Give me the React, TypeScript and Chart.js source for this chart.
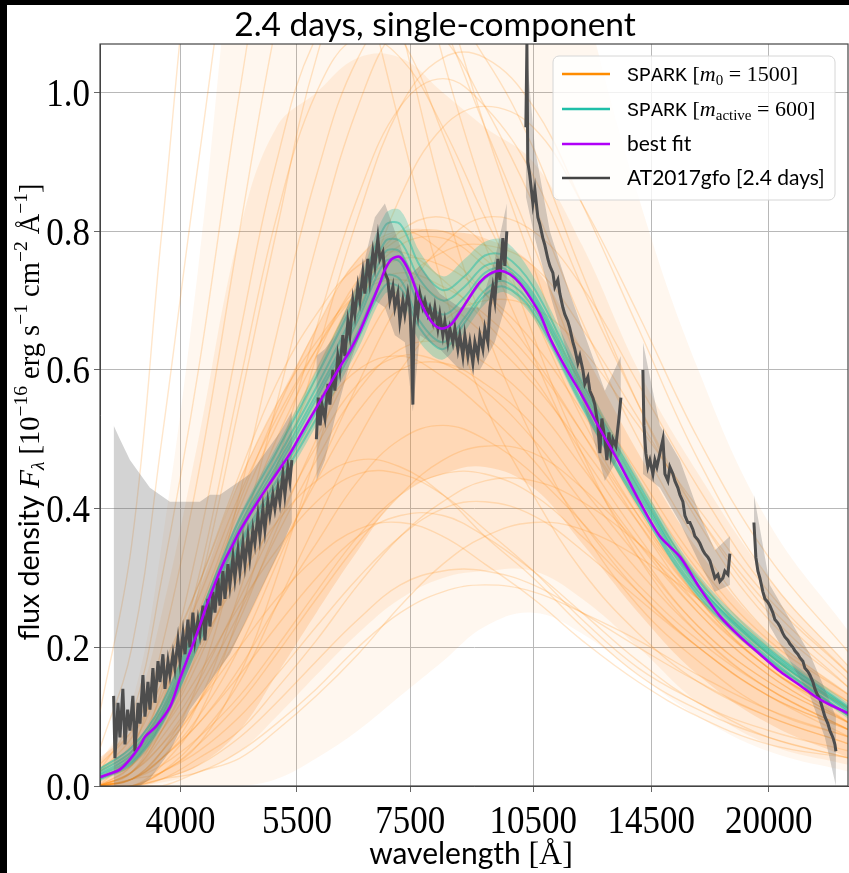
import React, { useEffect, useRef } from 'react';
import { Chart, registerables } from 'chart.js';
Chart.register(...registerables);

// ---------- axes ----------
const X_MIN = 3208;
const X_MAX = 24850;
const Y_MIN = 0;
const Y_MAX = 1.07;
const X_TICKS = [4000, 5500, 7500, 10500, 14500, 20000];
const Y_TICKS = [0, 0.2, 0.4, 0.6, 0.8, 1.0];

// ---------- SPARK [m0 = 1500] samples (orange) ----------
const SPARK_WAVE = [3200, 3500, 3800, 4200, 4700, 5200, 5800, 6500, 7300, 8200, 9200, 10500, 12000, 14000, 16500, 20000, 25000];
// spread of the sample cloud: outer haze, middle and dense core
const SPARK_HAZE_HI = [0.03, 0.12, 0.35, 0.75, 1.3, 1.6, 1.6, 1.6, 1.6, 1.6, 1.55, 1.45, 1.15, 0.85, 0.6, 0.38, 0.22];
const SPARK_HAZE_LO = [0.0, 0.0, 0.0, 0.0, 0.0, 0.01, 0.04, 0.08, 0.13, 0.18, 0.23, 0.25, 0.22, 0.16, 0.1, 0.05, 0.02];
const SPARK_MID_HI = [0.035, 0.1, 0.25, 0.5, 0.8, 0.95, 1.0, 1.05, 1.05, 1.0, 0.95, 0.9, 0.78, 0.6, 0.45, 0.3, 0.17];
const SPARK_MID_LO = [0.0, 0.0, 0.005, 0.02, 0.05, 0.1, 0.16, 0.22, 0.27, 0.3, 0.31, 0.31, 0.27, 0.2, 0.12, 0.06, 0.03];
const SPARK_CORE_HI = [0.04, 0.08, 0.15, 0.28, 0.44, 0.55, 0.66, 0.76, 0.8, 0.8, 0.79, 0.75, 0.63, 0.48, 0.34, 0.22, 0.13];
const SPARK_CORE_LO = [0.0, 0.0, 0.01, 0.03, 0.08, 0.16, 0.25, 0.34, 0.42, 0.45, 0.46, 0.43, 0.35, 0.25, 0.16, 0.09, 0.04];
const SPARK_SAMPLES = [
  [0.02, 0.1, 0.3, 0.6, 1.0, 1.3, 1.5, 1.5, 1.3, 1.05, 0.85, 0.65, 0.48, 0.33, 0.22, 0.14, 0.08],
  [0.0, 0.05, 0.2, 0.45, 0.8, 1.1, 1.35, 1.45, 1.35, 1.15, 0.95, 0.75, 0.56, 0.4, 0.27, 0.17, 0.1],
  [0.05, 0.2, 0.5, 0.9, 1.3, 1.5, 1.5, 1.35, 1.1, 0.85, 0.66, 0.5, 0.37, 0.26, 0.18, 0.11, 0.07],
  [0.0, 0.02, 0.1, 0.28, 0.55, 0.8, 1.05, 1.2, 1.22, 1.1, 0.95, 0.78, 0.6, 0.43, 0.3, 0.19, 0.11],
  [0.0, 0.03, 0.12, 0.3, 0.58, 0.82, 1.0, 1.08, 1.05, 0.95, 0.82, 0.68, 0.53, 0.39, 0.27, 0.17, 0.1],
  [0.0, 0.01, 0.05, 0.15, 0.35, 0.55, 0.78, 0.98, 1.1, 1.12, 1.05, 0.92, 0.74, 0.55, 0.38, 0.24, 0.14],
  [0.01, 0.04, 0.14, 0.35, 0.65, 0.9, 1.08, 1.14, 1.08, 0.94, 0.78, 0.62, 0.47, 0.34, 0.23, 0.15, 0.09],
  [0.0, 0.0, 0.03, 0.1, 0.25, 0.42, 0.62, 0.82, 0.98, 1.05, 1.05, 0.98, 0.84, 0.66, 0.47, 0.3, 0.17],
  [0.0, 0.01, 0.04, 0.12, 0.28, 0.46, 0.66, 0.85, 0.98, 1.02, 0.98, 0.88, 0.72, 0.55, 0.39, 0.25, 0.14],
  [0.0, 0.0, 0.02, 0.06, 0.16, 0.3, 0.48, 0.68, 0.85, 0.95, 0.98, 0.95, 0.84, 0.68, 0.5, 0.33, 0.19],
  [0.1, 0.35, 0.8, 1.3, 1.6, 1.6, 1.45, 1.2, 0.95, 0.72, 0.55, 0.42, 0.31, 0.22, 0.15, 0.1, 0.06],
  [0.0, 0.02, 0.08, 0.2, 0.42, 0.65, 0.88, 1.05, 1.12, 1.08, 0.98, 0.84, 0.67, 0.5, 0.35, 0.22, 0.13],
  [0.01, 0.04, 0.12, 0.24, 0.4, 0.52, 0.63, 0.72, 0.76, 0.75, 0.71, 0.64, 0.54, 0.41, 0.29, 0.19, 0.11],
  [0.02, 0.06, 0.15, 0.27, 0.42, 0.53, 0.63, 0.71, 0.74, 0.72, 0.68, 0.61, 0.51, 0.39, 0.28, 0.18, 0.1],
  [0.0, 0.03, 0.1, 0.21, 0.36, 0.48, 0.6, 0.71, 0.78, 0.79, 0.75, 0.68, 0.57, 0.43, 0.3, 0.19, 0.11],
  [0.03, 0.08, 0.17, 0.29, 0.44, 0.55, 0.64, 0.71, 0.73, 0.7, 0.65, 0.58, 0.49, 0.38, 0.27, 0.18, 0.11],
  [0.01, 0.05, 0.13, 0.25, 0.41, 0.54, 0.66, 0.76, 0.8, 0.77, 0.71, 0.62, 0.51, 0.38, 0.26, 0.17, 0.09],
  [0.0, 0.02, 0.08, 0.18, 0.33, 0.46, 0.59, 0.72, 0.8, 0.82, 0.78, 0.7, 0.58, 0.44, 0.31, 0.2, 0.12],
  [0.02, 0.07, 0.16, 0.29, 0.45, 0.58, 0.68, 0.75, 0.77, 0.73, 0.67, 0.59, 0.48, 0.36, 0.25, 0.16, 0.09],
  [0.01, 0.04, 0.11, 0.22, 0.37, 0.5, 0.62, 0.73, 0.79, 0.8, 0.76, 0.69, 0.58, 0.45, 0.32, 0.21, 0.13],
  [0.0, 0.0, 0.01, 0.03, 0.07, 0.12, 0.18, 0.24, 0.29, 0.31, 0.31, 0.29, 0.25, 0.2, 0.15, 0.1, 0.06],
  [0.0, 0.0, 0.02, 0.05, 0.1, 0.16, 0.23, 0.3, 0.36, 0.4, 0.41, 0.39, 0.34, 0.27, 0.2, 0.13, 0.08],
  [0.0, 0.01, 0.03, 0.07, 0.13, 0.2, 0.28, 0.36, 0.42, 0.45, 0.45, 0.42, 0.36, 0.28, 0.2, 0.13, 0.08],
  [0.0, 0.0, 0.01, 0.02, 0.05, 0.09, 0.14, 0.2, 0.25, 0.28, 0.29, 0.28, 0.25, 0.21, 0.16, 0.11, 0.07],
  [0.0, 0.01, 0.04, 0.09, 0.17, 0.26, 0.35, 0.44, 0.5, 0.52, 0.5, 0.45, 0.38, 0.29, 0.21, 0.14, 0.08],
  [0.0, 0.0, 0.01, 0.04, 0.08, 0.14, 0.21, 0.29, 0.36, 0.41, 0.44, 0.44, 0.41, 0.35, 0.27, 0.18, 0.11],
  [0.0, 0.0, 0.0, 0.02, 0.04, 0.08, 0.13, 0.19, 0.26, 0.32, 0.36, 0.38, 0.37, 0.33, 0.27, 0.19, 0.12],
  [0.0, 0.01, 0.02, 0.06, 0.12, 0.19, 0.27, 0.35, 0.42, 0.47, 0.49, 0.48, 0.43, 0.35, 0.26, 0.17, 0.1],
  [0.0, 0.02, 0.06, 0.12, 0.2, 0.27, 0.33, 0.37, 0.38, 0.36, 0.32, 0.27, 0.21, 0.15, 0.1, 0.06, 0.04],
  [0.01, 0.03, 0.08, 0.16, 0.26, 0.34, 0.41, 0.45, 0.45, 0.42, 0.37, 0.31, 0.24, 0.17, 0.12, 0.07, 0.04],
  [0.0, 0.01, 0.04, 0.09, 0.16, 0.23, 0.3, 0.36, 0.39, 0.39, 0.36, 0.31, 0.25, 0.18, 0.12, 0.08, 0.05],
  [0.02, 0.05, 0.11, 0.2, 0.3, 0.38, 0.44, 0.47, 0.46, 0.42, 0.36, 0.3, 0.23, 0.16, 0.11, 0.07, 0.04],
  [0.0, 0.02, 0.07, 0.15, 0.27, 0.38, 0.49, 0.58, 0.62, 0.61, 0.57, 0.5, 0.41, 0.31, 0.22, 0.14, 0.08],
  [0.01, 0.03, 0.09, 0.19, 0.32, 0.43, 0.53, 0.6, 0.62, 0.59, 0.54, 0.47, 0.38, 0.28, 0.2, 0.13, 0.07],
  [0.0, 0.01, 0.05, 0.12, 0.22, 0.33, 0.44, 0.54, 0.6, 0.61, 0.58, 0.52, 0.43, 0.33, 0.23, 0.15, 0.09],
  [0.0, 0.02, 0.06, 0.14, 0.25, 0.36, 0.47, 0.57, 0.63, 0.64, 0.61, 0.55, 0.46, 0.35, 0.25, 0.16, 0.09],
  [0.0, 0.01, 0.04, 0.1, 0.2, 0.32, 0.45, 0.58, 0.7, 0.78, 0.82, 0.8, 0.72, 0.58, 0.43, 0.28, 0.16],
  [0.0, 0.01, 0.05, 0.12, 0.24, 0.37, 0.5, 0.62, 0.72, 0.77, 0.78, 0.75, 0.66, 0.53, 0.39, 0.26, 0.15],
  [0.0, 0.0, 0.02, 0.07, 0.15, 0.26, 0.38, 0.5, 0.6, 0.67, 0.7, 0.69, 0.63, 0.52, 0.4, 0.27, 0.16],
];

// ---------- SPARK [m_active = 600] samples (teal) ----------
const ACTIVE_WAVE = [3200, 3500, 3800, 4200, 4700, 5200, 5800, 6500, 7000, 7300, 7700, 8200, 8700, 9200, 9700, 10500, 12000, 14000, 16500, 20000, 25000];
const ACTIVE_HI = [0.025, 0.058, 0.12, 0.245, 0.39, 0.49, 0.6, 0.725, 0.825, 0.83, 0.77, 0.735, 0.76, 0.785, 0.787, 0.735, 0.593, 0.445, 0.305, 0.205, 0.117];
const ACTIVE_LO = [0.006, 0.03, 0.085, 0.2, 0.335, 0.42, 0.52, 0.63, 0.71, 0.705, 0.64, 0.615, 0.655, 0.695, 0.712, 0.675, 0.543, 0.402, 0.27, 0.178, 0.095];
const ACTIVE_SAMPLES = [
  [0.02, 0.05, 0.11, 0.235, 0.375, 0.47, 0.575, 0.695, 0.785, 0.785, 0.73, 0.7, 0.72, 0.75, 0.752, 0.71, 0.575, 0.43, 0.29, 0.195, 0.11],
  [0.011, 0.036, 0.094, 0.212, 0.35, 0.44, 0.54, 0.655, 0.735, 0.73, 0.67, 0.64, 0.675, 0.715, 0.728, 0.69, 0.553, 0.41, 0.28, 0.185, 0.1],
  [0.017, 0.045, 0.104, 0.228, 0.368, 0.462, 0.565, 0.68, 0.77, 0.77, 0.71, 0.68, 0.705, 0.74, 0.746, 0.705, 0.568, 0.425, 0.289, 0.192, 0.107],
  [0.009, 0.033, 0.09, 0.205, 0.345, 0.432, 0.53, 0.645, 0.722, 0.718, 0.66, 0.63, 0.668, 0.708, 0.72, 0.683, 0.548, 0.405, 0.275, 0.182, 0.1],
  [0.024, 0.056, 0.118, 0.242, 0.385, 0.482, 0.59, 0.712, 0.808, 0.81, 0.75, 0.715, 0.735, 0.765, 0.765, 0.72, 0.582, 0.436, 0.296, 0.198, 0.112],
  [0.015, 0.04, 0.1, 0.222, 0.362, 0.455, 0.558, 0.672, 0.756, 0.755, 0.692, 0.662, 0.694, 0.732, 0.742, 0.7, 0.563, 0.42, 0.285, 0.19, 0.105],
];

// ---------- best fit (magenta) ----------
const FIT_WAVE = [3208, 3300, 3390, 3480, 3580, 3630, 3740, 3885, 3993, 4125, 4217, 4300, 4394, 4491, 4600, 4705, 4835, 4970, 5110, 5250, 5400, 5546, 5700, 5860, 6020, 6190, 6360, 6530, 6715, 6900, 7000, 7130, 7290, 7490, 7700, 7920, 8130, 8360, 8590, 8830, 9080, 9330, 9590, 9850, 10120, 10400, 10700, 11000, 11450, 12000, 12600, 13300, 14050, 14850, 15700, 16570, 17500, 18500, 19530, 20640, 21800, 23000, 24850];
const FIT_FLUX = [0.013, 0.018, 0.024, 0.038, 0.058, 0.071, 0.086, 0.114, 0.155, 0.2, 0.232, 0.262, 0.292, 0.32, 0.345, 0.368, 0.392, 0.415, 0.437, 0.458, 0.48, 0.505, 0.53, 0.555, 0.58, 0.605, 0.628, 0.655, 0.69, 0.725, 0.745, 0.76, 0.763, 0.74, 0.7, 0.672, 0.66, 0.664, 0.683, 0.706, 0.727, 0.739, 0.743, 0.738, 0.725, 0.705, 0.68, 0.645, 0.605, 0.563, 0.515, 0.465, 0.41, 0.36, 0.33, 0.285, 0.245, 0.215, 0.19, 0.165, 0.145, 0.125, 0.105];

// ---------- AT2017gfo observed spectrum (dark grey), null = gap ----------
const OBS_WAVE = [
  3330, 3342, 3370, 3388, 3415, 3435, 3460, 3482, 3510, 3530, 3560, 3579, 3608, 3628, 3658, 3678, 3708, 3729, 3760, 3780,
  3811, 3832, 3864, 3885, 3917, 3938, 3971, 3993, 4026, 4048, 4081, 4103, 4137, 4160, 4194, 4217, 4252, 4275, 4310, 4334,
  4370, 4394, 4430, 4454, 4491, 4516, 4553, 4578, 4616, 4641, 4680, 4705, 4744, 4770, 4809, 4835, 4875, 4902, 4942, 4969,
  5010, 5038, 5079, 5107, 5149, 5178, 5221, 5249, 5292, 5321, 5365, 5395, 5424,
  5600,
  5800, 5830, 5860, 5890, 5937, 5987, 6018, 6068, 6101, 6150, 6185, 6236, 6270, 6322, 6357, 6409, 6444, 6497, 6533, 6587,
  6623, 6677, 6714, 6770, 6807, 6863, 6901, 6958, 6996, 7053, 7092, 7151, 7190, 7249, 7289, 7349, 7389, 7450, 7491, 7532,
  7553, 7573, 7615, 7657, 7699, 7762, 7805, 7870, 7913, 7979, 8022, 8088, 8132, 8199, 8244, 8312, 8358, 8427, 8473, 8543,
  8590, 8661, 8708, 8780, 8828, 8901, 8950, 9024, 9073, 9148, 9198, 9274, 9325, 9401, 9453, 9531, 9583, 9662, 9715, 9768,
  10000,
  10290, 10320, 10345, 10403, 10490, 10547, 10634, 10692, 10780, 10839, 10929, 10989, 11080, 11140, 11232, 11294, 11387, 11449, 11543, 11607,
  11703, 11767, 11864, 11929, 12028, 12094, 12194, 12260, 12361, 12429, 12532, 12601, 12670, 12774, 12844, 12915, 12986, 13057, 13165, 13274, 13347,
  13800,
  14175, 14215, 14290, 14370, 14449, 14570, 14648, 14730, 14850, 14975, 15055, 15180, 15262, 15390, 15472, 15600, 15685, 15815, 15902, 16032,
  16121, 16255, 16343, 16478, 16568, 16705, 16796, 16935, 17028, 17168, 17262, 17405, 17500, 17645, 17741, 17888, 17986,
  18600,
  19208, 19312, 19418, 19525, 19686, 19794, 19958, 20067, 20231, 20343, 20511, 20624, 20794, 20908, 21080, 21196, 21371, 21488, 21665, 21784,
  21964, 22084, 22266, 22389, 22574, 22697, 22884, 23010, 23200, 23327, 23519, 23648, 23843, 23974, 24040,
];
const OBS_FLUX = [
  0.13, 0.04, 0.12, 0.07, 0.14, 0.06, 0.11, 0.08, 0.13, 0.05, 0.12, 0.09, 0.16, 0.1, 0.15, 0.11, 0.17, 0.12, 0.18, 0.15,
  0.19, 0.14, 0.18, 0.16, 0.19, 0.17, 0.21, 0.18, 0.22, 0.19, 0.24, 0.2, 0.25, 0.21, 0.24, 0.22, 0.26, 0.21, 0.27, 0.23,
  0.28, 0.25, 0.3, 0.26, 0.31, 0.27, 0.32, 0.29, 0.33, 0.3, 0.34, 0.31, 0.35, 0.32, 0.36, 0.33, 0.37, 0.35, 0.39, 0.36,
  0.4, 0.37, 0.41, 0.39, 0.42, 0.4, 0.43, 0.41, 0.45, 0.42, 0.46, 0.44, 0.47,
  null,
  0.5, 0.56, 0.52, 0.55, 0.53, 0.58, 0.55, 0.6, 0.57, 0.62, 0.6, 0.65, 0.62, 0.67, 0.65, 0.7, 0.68, 0.72, 0.7, 0.74,
  0.71, 0.76, 0.73, 0.77, 0.75, 0.79, 0.76, 0.77, 0.74, 0.73, 0.7, 0.72, 0.69, 0.71, 0.67, 0.7, 0.68, 0.71, 0.69, 0.62,
  0.55, 0.66, 0.7, 0.68, 0.71, 0.69, 0.7, 0.68, 0.69, 0.67, 0.69, 0.66, 0.68, 0.65, 0.67, 0.64, 0.66, 0.64, 0.66, 0.63,
  0.65, 0.62, 0.65, 0.62, 0.64, 0.61, 0.64, 0.62, 0.65, 0.63, 0.66, 0.64, 0.69, 0.72, 0.7, 0.76, 0.73, 0.79, 0.75, 0.8,
  null,
  0.95, 1.07, 0.9, 0.88, 0.84, 0.86, 0.82, 0.81, 0.79, 0.78, 0.76, 0.75, 0.74, 0.72, 0.73, 0.71, 0.69, 0.68, 0.67, 0.66,
  0.64, 0.63, 0.61, 0.62, 0.6, 0.58, 0.59, 0.57, 0.56, 0.55, 0.52, 0.48, 0.53, 0.5, 0.47, 0.51, 0.48, 0.5, 0.49, 0.53, 0.56,
  null,
  0.6, 0.52, 0.48, 0.46, 0.47, 0.45, 0.47, 0.46, 0.48, 0.5, 0.45, 0.44, 0.46, 0.45, 0.44, 0.43, 0.42, 0.41, 0.39, 0.38,
  0.38, 0.37, 0.36, 0.355, 0.35, 0.34, 0.335, 0.33, 0.325, 0.31, 0.3, 0.305, 0.295, 0.3, 0.31, 0.305, 0.335,
  null,
  0.38, 0.33, 0.31, 0.3, 0.28, 0.27, 0.265, 0.26, 0.25, 0.24, 0.235, 0.23, 0.22, 0.215, 0.21, 0.205, 0.2, 0.195, 0.19, 0.185,
  0.18, 0.17, 0.165, 0.16, 0.15, 0.14, 0.13, 0.125, 0.11, 0.1, 0.09, 0.08, 0.07, 0.06, 0.05,
];

// ---------- observed 1-sigma band (grey), null = gap ----------
const ERR_WAVE = [3330, 3388, 3482, 3579, 3678, 3780, 3885, 3993, 4103, 4217, 4334, 4454, 4578, 4705, 4835, 4969, 5107, 5249, 5424, 5600,
  5800, 5937, 6101, 6357, 6623, 6807, 6996, 7190, 7389, 7553, 7699, 8132, 8590, 9073, 9453, 9768, 10000,
  10290, 10547, 10989, 11607, 12260, 12774, 13347, 13800,
  14175, 14850, 15685, 16568, 17262, 17986, 18600,
  19208, 20067, 21196, 22389, 23327, 24040];
const ERR_HI = [0.52, 0.5, 0.47, 0.45, 0.43, 0.42, 0.41, 0.41, 0.41, 0.41, 0.42, 0.42, 0.43, 0.44, 0.45, 0.47, 0.49, 0.51, 0.54, null,
  0.62, 0.63, 0.65, 0.7, 0.76, 0.82, 0.84, 0.8, 0.76, 0.74, 0.75, 0.71, 0.69, 0.69, 0.76, 0.84, null,
  1.07, 0.92, 0.8, 0.71, 0.63, 0.57, 0.62, null,
  0.64, 0.52, 0.47, 0.39, 0.34, 0.36, null,
  0.42, 0.29, 0.24, 0.19, 0.14, 0.1];
const ERR_LO = [0.0, 0.0, 0.0, 0.0, 0.01, 0.03, 0.05, 0.08, 0.11, 0.13, 0.15, 0.17, 0.19, 0.22, 0.25, 0.28, 0.31, 0.34, 0.38, null,
  0.44, 0.47, 0.53, 0.61, 0.67, 0.7, 0.69, 0.65, 0.64, 0.54, 0.65, 0.63, 0.6, 0.6, 0.64, 0.7, null,
  0.85, 0.79, 0.71, 0.61, 0.52, 0.44, 0.48, null,
  0.45, 0.43, 0.38, 0.32, 0.28, 0.29, null,
  0.33, 0.23, 0.18, 0.13, 0.07, 0.0];

// ---------- colours ----------
const C_ORANGE = '#ff8c00';
const C_TEAL = '#1fbfa8';
const C_FIT = '#b000f8';
const C_OBS = '#4d4d4d';

const SANS = 'Lato, "Open Sans", sans-serif';
const SERIF = '"Liberation Serif", "DejaVu Serif", serif';
const MONO = '"Liberation Mono", "DejaVu Sans Mono", monospace';
const TICK_FONT = `35px ${SERIF}`;
const TICK_STRETCH = 1.15;

type Run = { t: string; f: string; dy?: number };

function runsWidth(ctx: CanvasRenderingContext2D, runs: Run[]) {
  let w = 0;
  for (const r of runs) {
    ctx.font = r.f;
    w += ctx.measureText(r.t).width;
  }
  return w;
}
function drawRuns(ctx: CanvasRenderingContext2D, runs: Run[], x: number, y: number, align: 'left' | 'center') {
  const w = runsWidth(ctx, runs);
  let cx = align === 'center' ? x - w / 2 : x;
  ctx.textAlign = 'left';
  ctx.textBaseline = 'alphabetic';
  for (const r of runs) {
    ctx.font = r.f;
    ctx.fillText(r.t, cx, y + (r.dy || 0));
    cx += ctx.measureText(r.t).width;
  }
}

const pts = (xs: number[], ys: (number | null)[]) => xs.map((x, i) => ({ x, y: ys[i] }));

const decorPlugin = {
  id: 'decor',
  afterDraw(chart: any) {
    const ctx: CanvasRenderingContext2D = chart.ctx;
    const a = chart.chartArea;
    ctx.save();
    // frame
    ctx.strokeStyle = '#444';
    ctx.lineWidth = 1.2;
    ctx.strokeRect(a.left, a.top, a.right - a.left, a.bottom - a.top);

    ctx.fillStyle = '#000';
    // tick labels (slightly tall serif digits)
    ctx.font = TICK_FONT;
    ctx.textBaseline = 'alphabetic';
    ctx.textAlign = 'center';
    for (const v of X_TICKS) {
      const px = chart.scales.x.getPixelForValue(v);
      ctx.save();
      ctx.translate(px, 828);
      ctx.scale(1, TICK_STRETCH);
      ctx.fillText(String(v), 0, 0);
      ctx.restore();
    }
    ctx.textAlign = 'right';
    for (const v of Y_TICKS) {
      const py = chart.scales.y.getPixelForValue(v);
      ctx.save();
      ctx.translate(83, py + 13.5);
      ctx.scale(1, TICK_STRETCH);
      ctx.fillText(v.toFixed(1), 0, 0);
      ctx.restore();
    }

    // title
    drawRuns(ctx, [{ t: '2.4 days, single-component', f: `33.5px ${SANS}` }], 428, 31, 'center');
    // x title
    drawRuns(ctx, [
      { t: 'wavelength ', f: `30px ${SANS}` },
      { t: '[Å]', f: `32px ${SERIF}` },
    ], 464, 859, 'center');
    // y title
    ctx.save();
    ctx.translate(32, 407);
    ctx.rotate(-Math.PI / 2);
    const big = `28.5px ${SERIF}`;
    const sm = `19.5px ${SERIF}`;
    drawRuns(ctx, [
      { t: 'flux density ', f: `28.5px ${SANS}` },
      { t: 'F', f: `italic 29.5px ${SERIF}` },
      { t: 'λ', f: `italic 19.5px ${SERIF}`, dy: 5 },
      { t: ' [10', f: big },
      { t: '−16', f: sm, dy: -12 },
      { t: ' erg s', f: big },
      { t: '−1', f: sm, dy: -12 },
      { t: ' cm', f: big },
      { t: '−2', f: sm, dy: -12 },
      { t: ' Å', f: big },
      { t: '−1', f: sm, dy: -12 },
      { t: ']', f: big },
    ], 0, 0, 'center');
    ctx.restore();

    // legend
    const lx = 546, ly = 51, lw = 282, lh = 144;
    ctx.beginPath();
    ctx.roundRect(lx, ly, lw, lh, 6);
    ctx.fillStyle = 'rgba(255,255,255,0.8)';
    ctx.fill();
    ctx.strokeStyle = '#d6d6d6';
    ctx.lineWidth = 1;
    ctx.stroke();
    const rows: { c: string; y: number; runs: Run[] }[] = [
      { c: C_ORANGE, y: 69, runs: [
        { t: 'SPARK', f: `20px ${MONO}` },
        { t: ' [', f: `22px ${SERIF}` },
        { t: 'm', f: `italic 22px ${SERIF}` },
        { t: '0', f: `15px ${SERIF}`, dy: 4 },
        { t: ' = 1500]', f: `22px ${SERIF}` },
      ] },
      { c: C_TEAL, y: 104, runs: [
        { t: 'SPARK', f: `20px ${MONO}` },
        { t: ' [', f: `22px ${SERIF}` },
        { t: 'm', f: `italic 22px ${SERIF}` },
        { t: 'active', f: `15px ${SERIF}`, dy: 4 },
        { t: ' = 600]', f: `22px ${SERIF}` },
      ] },
      { c: C_FIT, y: 139, runs: [{ t: 'best fit', f: `21px ${SANS}` }] },
      { c: '#444', y: 173, runs: [{ t: 'AT2017gfo [2.4 days]', f: `21px ${SANS}` }] },
    ];
    for (const r of rows) {
      ctx.strokeStyle = r.c;
      ctx.lineWidth = 2.5;
      ctx.beginPath();
      ctx.moveTo(555, r.y);
      ctx.lineTo(603, r.y);
      ctx.stroke();
      ctx.fillStyle = '#000';
      drawRuns(ctx, r.runs, 620, r.y + 7, 'left');
    }
    ctx.restore();
  },
};

function band(hi: number[], lo: number[], wave: number[], color: string, order: number, tension: number) {
  return [
    { data: pts(wave, hi), borderWidth: 0, pointRadius: 0, tension, fill: '+1', backgroundColor: color, order },
    { data: pts(wave, lo), borderWidth: 0, pointRadius: 0, tension, fill: false, order },
  ];
}

export default function App() {
  const ref = useRef<HTMLCanvasElement | null>(null);
  useEffect(() => {
    document.body.style.margin = '0';
    document.body.style.background = '#000';
    const canvas = ref.current!;
    const datasets: any[] = [];
    datasets.push({
      data: pts(FIT_WAVE, FIT_FLUX), borderColor: C_FIT, borderWidth: 2.6, pointRadius: 0,
      tension: 0.3, order: 0,
    });
    datasets.push({
      data: pts(OBS_WAVE, OBS_FLUX), borderColor: C_OBS, borderWidth: 3, pointRadius: 0,
      tension: 0, spanGaps: false, order: 1,
    });
    datasets.push({
      data: pts(ERR_WAVE, ERR_HI), borderWidth: 0, pointRadius: 0, spanGaps: false,
      fill: '+1', backgroundColor: 'rgba(110,110,110,0.3)', order: 2,
    });
    datasets.push({
      data: pts(ERR_WAVE, ERR_LO), borderWidth: 0, pointRadius: 0, spanGaps: false,
      fill: false, order: 2,
    });
    ACTIVE_SAMPLES.forEach((s) => {
      datasets.push({
        data: pts(ACTIVE_WAVE, s), borderColor: 'rgba(31,191,168,0.5)', borderWidth: 2,
        pointRadius: 0, tension: 0.35, order: 3,
      });
    });
    datasets.push(...band(ACTIVE_HI, ACTIVE_LO, ACTIVE_WAVE, 'rgba(31,191,168,0.3)', 4, 0.35));
    SPARK_SAMPLES.forEach((s) => {
      datasets.push({
        data: pts(SPARK_WAVE, s), borderColor: 'rgba(255,140,20,0.22)', borderWidth: 1.4,
        pointRadius: 0, tension: 0.4, order: 5,
      });
    });
    datasets.push(...band(SPARK_CORE_HI, SPARK_CORE_LO, SPARK_WAVE, 'rgba(255,140,30,0.19)', 6, 0.4));
    datasets.push(...band(SPARK_MID_HI, SPARK_MID_LO, SPARK_WAVE, 'rgba(255,140,30,0.1)', 7, 0.4));
    datasets.push(...band(SPARK_HAZE_HI, SPARK_HAZE_LO, SPARK_WAVE, 'rgba(255,140,30,0.07)', 8, 0.4));

    const chart = new Chart(canvas, {
      type: 'line',
      data: { datasets },
      options: {
        responsive: false,
        animation: false,
        layout: { padding: { top: 39, right: 1, left: 0, bottom: 0 } },
        plugins: { legend: { display: false }, tooltip: { enabled: false }, title: { display: false } },
        scales: {
          x: {
            type: 'logarithmic',
            min: X_MIN,
            max: X_MAX,
            afterBuildTicks: (s: any) => { s.ticks = X_TICKS.map((v) => ({ value: v })); },
            afterFit: (s: any) => { s.height = 87; },
            ticks: { display: false, autoSkip: false, maxRotation: 0 },
            grid: { color: '#b8b8b8', lineWidth: 1, tickLength: 6, tickColor: '#666' },
            border: { display: true, color: '#444' },
          },
          y: {
            type: 'linear',
            min: Y_MIN,
            max: Y_MAX,
            afterBuildTicks: (s: any) => { s.ticks = Y_TICKS.map((v) => ({ value: v })); },
            afterFit: (s: any) => { s.width = 93; },
            ticks: { display: false },
            grid: { color: '#b8b8b8', lineWidth: 1, tickLength: 6, tickColor: '#666' },
            border: { display: true, color: '#444' },
          },
        },
      },
      plugins: [decorPlugin],
    });
    return () => chart.destroy();
  }, []);
  return (
    <div style={{ position: 'absolute', left: 7, top: 5, width: 842, height: 868, background: '#fff' }}>
      <canvas ref={ref} width={842} height={868} style={{ display: 'block', width: 842, height: 868 }} />
    </div>
  );
}
